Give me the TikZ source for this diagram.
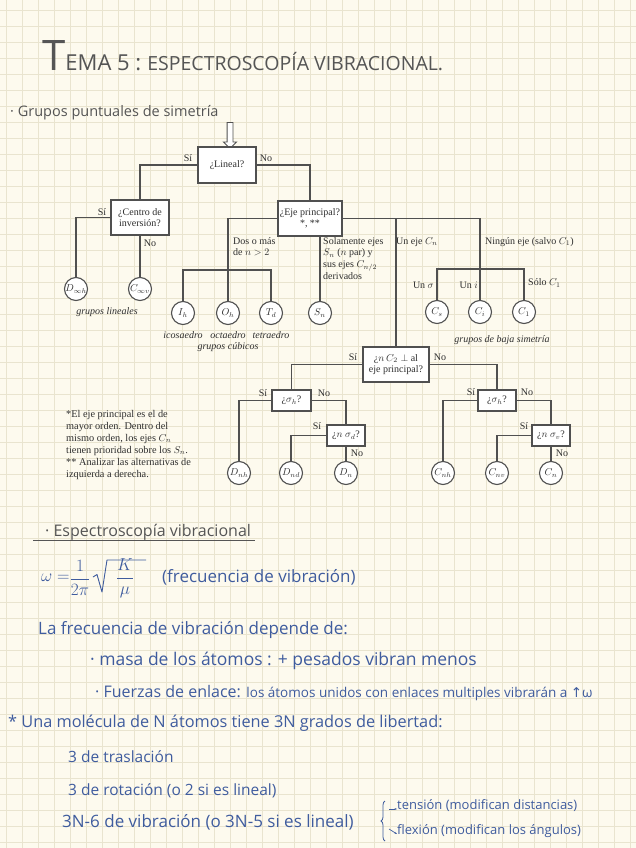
\documentclass[tikz,border=0pt]{standalone}
\usepackage{fontspec}
\setmainfont{Liberation Serif}
\newfontfamily\hw{Open Sans}
\newfontfamily\symf{DejaVu Sans}
\usetikzlibrary{arrows.meta,shapes.arrows,decorations.pathreplacing}
\definecolor{bgc}{HTML}{FDFAEE}
\definecolor{gridc}{HTML}{E9E4CF}
\definecolor{linec}{HTML}{505050}
\definecolor{txtc}{HTML}{2E2E2E}
\definecolor{titc}{HTML}{555555}
\definecolor{inkc}{HTML}{3F5C9E}
\newcommand{\dfont}{\fontsize{10}{11}\selectfont}
\newcommand{\hfs}[1]{\fontsize{#1}{#1}\selectfont}
\tikzset{
  qbox/.style={draw=linec, line width=1.1pt, fill=white, font=\dfont, align=center, inner sep=1pt, text=txtc},
  gcirc/.style={circle, draw=linec, line width=1.1pt, fill=white, minimum size=23pt, inner sep=0pt, font=\dfont, text=txtc},
  conn/.style={draw=linec, line width=1.5pt},
  yn/.style={font=\dfont, text=txtc, inner sep=0pt},
  gl/.style={font=\dfont\itshape, text=txtc, inner sep=0pt},
  blab/.style={font=\dfont, text=txtc, inner sep=0pt, align=left},
  hwt/.style={font=\hw, text=inkc, inner sep=0pt, anchor=base west},
  hwg/.style={font=\hw, text=titc, inner sep=0pt, anchor=base west},
  fm/.style={text=inkc, inner sep=0pt, font=\fontsize{19}{22}\selectfont},
}
\begin{document}
\begin{tikzpicture}[x=1pt,y=-1pt]
\useasboundingbox (0,0) rectangle (636,848);
\fill[bgc] (0,0) rectangle (636,848);
\foreach \gx in {6,22,...,636} \draw[gridc, line width=0.7pt] (\gx,0) -- (\gx,848);
\foreach \gy in {10,26,...,848} \draw[gridc, line width=0.7pt] (0,\gy) -- (636,\gy);

% title
\node[hwg] (title) at (42,71) {{\hfs{42}T}{\hfs{22}EMA 5 :}\hspace{6pt}{\hfs{19.5}ESPECTROSCOPÍA VIBRACIONAL.}};
\node[hwg] (grupos) at (10,117) {\hfs{14.5}· Grupos puntuales de simetría};

% entry arrow
\node[single arrow, draw=linec, fill=white, line width=0.9pt, shape border rotate=270,
      minimum height=26pt, inner sep=2.5pt, single arrow head extend=3.5pt] (inarrow) at (230,134) {};

% decision boxes
\node[qbox, minimum width=58pt, minimum height=36pt] (lineal) at (227,165) {¿Lineal?};
\node[qbox, minimum width=58pt, minimum height=35pt] (centro) at (140,217.5) {¿Centro de\\inversión?};
\node[qbox, minimum width=64pt, minimum height=35pt] (eje) at (310,218.5) {¿Eje principal?\\*, **};
\node[qbox, minimum width=66pt, minimum height=35pt] (perp) at (396,364.5) {¿$n\,C_2\perp$ al\\eje principal?};
\node[qbox, minimum width=39pt, minimum height=21pt] (sh1) at (291.5,400.5) {¿$\sigma_h$?};
\node[qbox, minimum width=38pt, minimum height=21pt] (nsd) at (346,435.5) {¿$n\ \sigma_d$?};
\node[qbox, minimum width=38pt, minimum height=21pt] (sh2) at (497,400.5) {¿$\sigma_h$?};
\node[qbox, minimum width=38pt, minimum height=21pt] (nsv) at (551,435.5) {¿$n\ \sigma_v$?};

% group circles
\node[gcirc] (Dinfh) at (76,289) {$D_{\infty h}$};
\node[gcirc] (Cinfv) at (140,289) {$C_{\infty v}$};
\node[gcirc] (Ih) at (183,313) {$I_h$};
\node[gcirc] (Oh) at (228,313) {$O_h$};
\node[gcirc] (Td) at (271,313) {$T_d$};
\node[gcirc] (Sn) at (320,313) {$S_n$};
\node[gcirc] (Cs) at (437,312) {$C_s$};
\node[gcirc] (Ci) at (480,312) {$C_i$};
\node[gcirc] (C1) at (524,312) {$C_1$};
\node[gcirc] (Dnh) at (239,473) {$D_{nh}$};
\node[gcirc] (Dnd) at (291,473) {$D_{nd}$};
\node[gcirc] (Dn) at (346,473) {$D_n$};
\node[gcirc] (Cnh) at (443,473) {$C_{nh}$};
\node[gcirc] (Cnv) at (497,473) {$C_{nv}$};
\node[gcirc] (Cn) at (551,473) {$C_n$};

\coordinate (cubbar) at (228,270);
\coordinate (lowbar) at (480,269);

% connectors
\draw[conn] (lineal.west) -| (centro.north);
\draw[conn] (lineal.east) -| (eje.north);
\draw[conn] (centro.west) -| (Dinfh.north);
\draw[conn] (centro.south) -- (Cinfv.north);
\draw[conn] (eje.west) -| (Oh.north);
\draw[conn] (Ih.north) |- (cubbar) -| (Td.north);
\draw[conn] (eje.south -| Sn.north) -- (Sn.north);
\draw[conn] (eje.east) -| (Ci.north);
\draw[conn] (eje.east -| perp.north) -- (perp.north);
\draw[conn] (Cs.north) |- (lowbar) -| (C1.north);
\draw[conn] (perp.west) -| (sh1.north);
\draw[conn] (perp.east) -| (sh2.north);
\draw[conn] (sh1.west) -| (Dnh.north);
\draw[conn] (sh1.east) -| (nsd.north);
\draw[conn] (nsd.west) -| (Dnd.north);
\draw[conn] (nsd.south) -- (Dn.north);
\draw[conn] (sh2.west) -| (Cnh.north);
\draw[conn] (sh2.east) -| (nsv.north);
\draw[conn] (nsv.west) -| (Cnv.north);
\draw[conn] (nsv.south) -- (Cn.north);

% yes / no labels
\node[yn] (y1) at (188,158) {Sí};
\node[yn] (n1) at (266,158) {No};
\node[yn] (y2) at (102,212) {Sí};
\node[yn] (n2) at (150,243) {No};
\node[yn] (y3) at (353,357) {Sí};
\node[yn] (n3) at (440,357) {No};
\node[yn] (y4) at (263,393) {Sí};
\node[yn] (n4) at (324,393) {No};
\node[yn] (y5) at (317,426) {Sí};
\node[yn] (n5) at (357,453) {No};
\node[yn] (y6) at (471,392) {Sí};
\node[yn] (n6) at (527,392) {No};
\node[yn] (y7) at (524,426) {Sí};
\node[yn] (n7) at (562,453) {No};

% branch labels
\node[blab, anchor=north west] (l1) at (233,237) {Dos o más\\de $n>2$};
\node[blab, anchor=north west, font=\fontsize{10}{11.8}\selectfont] (l2) at (323,237) {Solamente ejes\\$S_n$ ($n$ par) y\\sus ejes $C_{n/2}$\\derivados};
\node[blab, anchor=north west] (l3) at (396,237) {Un eje $C_n$};
\node[blab, anchor=north west] (l4) at (485,237) {Ningún eje (salvo $C_1$)};
\node[blab, anchor=east] (l5) at (434,285) {Un $\sigma$};
\node[blab, anchor=east] (l6) at (478,285) {Un $i$};
\node[blab, anchor=west] (l7) at (528,283) {Sólo $C_1$};

% group names
\node[gl] (g1) at (107,312) {grupos lineales};
\node[gl] (g2) at (183,335) {icosaedro};
\node[gl] (g3) at (228,335) {octaedro};
\node[gl] (g4) at (271,335) {tetraedro};
\node[gl] (g5) at (228,347) {grupos cúbicos};
\node[gl] (g6) at (502,340) {grupos de baja simetría};

% note
\node[blab, anchor=north west, font=\fontsize{10.3}{12}\selectfont] (note) at (66,410)
 {*El eje principal es el de\\mayor orden. Dentro del\\mismo orden, los ejes $C_n$\\tienen prioridad sobre los $S_n$.\\** Analizar las alternativas de\\izquierda a derecha.};

% vibrational spectroscopy
\node[hwg] (espec) at (45,536) {\hfs{16}· Espectroscopía vibracional};
\coordinate (ulA) at (33,540);
\coordinate (ulB) at (255,540);
\draw[titc, line width=0.8pt] (ulA) -- (ulB);

% formula: omega = 1/(2 pi) sqrt(K/mu)
\node[fm, anchor=west] (om) at (41,578) {$\omega=$};
\node[fm] (fr1) at (80,578) {$\displaystyle\frac{1}{2\pi}$};
\coordinate (r1) at (93,577);
\coordinate (r2) at (97,574.5);
\coordinate (r3) at (102,592);
\coordinate (r4) at (107,560);
\coordinate (r5) at (146,560);
\draw[inkc, line width=0.9pt, line join=round] (r1) -- (r2) -- (r3) -- (r4) -- (r5);
\node[fm] (fr2) at (125,578) {$\displaystyle\frac{K}{\mu}$};
\node[hwt] (frec) at (162,582) {\hfs{17}(frecuencia de vibración)};

\node[hwt] (dep) at (38,634) {\hfs{17}La frecuencia de vibración depende de:};
\node[hwt] (masa) at (90,665) {\hfs{17.5}· masa de los átomos : + pesados vibran menos};
\node[hwt] (fuer) at (95,697) {\hfs{16}· Fuerzas de enlace: \hfs{13.5}los átomos unidos con enlaces multiples vibrarán a {\symf ↑}ω};
\node[hwt] (mol) at (8,727) {\hfs{16.3}* Una molécula de N átomos tiene 3N grados de libertad:};
\node[hwt] (tras) at (68,762) {\hfs{15.5}3 de traslación};
\node[hwt] (rot) at (68,795) {\hfs{15.5}3 de rotación (o 2 si es lineal)};
\node[hwt] (vib) at (62,827) {\hfs{17}3N-6 de vibración (o 3N-5 si es lineal)};

\coordinate (brB) at (385,841);
\coordinate (brT) at (385,801);
\draw[inkc, line width=0.8pt, decorate, decoration={brace, amplitude=4pt}] (brB) -- (brT);
\node[hwt] (tens) at (397,809) {\hfs{13}tensión (modifican distancias)};
\node[hwt] (flex) at (397,834) {\hfs{13}flexión (modifican los ángulos)};
\coordinate (a1s) at (389,809);
\coordinate (a2s) at (389,829);
\draw[inkc, line width=0.7pt, -{Stealth[length=2.5pt]}] (a1s) -- (tens.base west);
\draw[inkc, line width=0.7pt, -{Stealth[length=2.5pt]}] (a2s) -- (flex.base west);
\end{tikzpicture}
\end{document}
